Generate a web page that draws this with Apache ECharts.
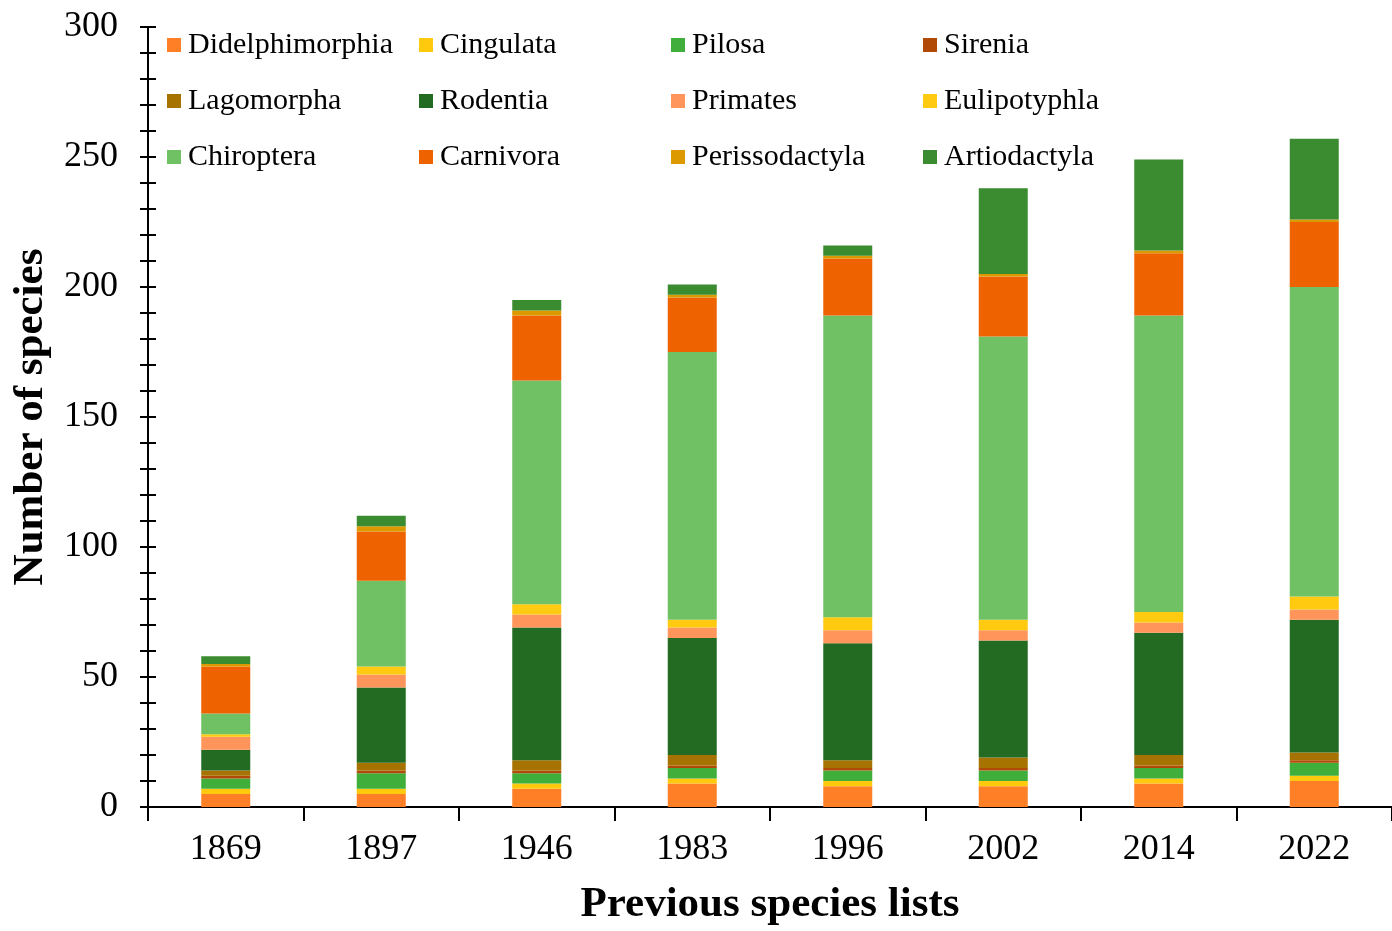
<!DOCTYPE html>
<html>
<head>
<meta charset="utf-8">
<script src="https://cdn.jsdelivr.net/npm/echarts@6/dist/echarts.min.js"></script>
<style>
  html, body { margin: 0; padding: 0; background: #fff; overflow: hidden; }
  #chart { width: 100vw; height: 100vh; }
</style>
</head>
<body>
<div id="chart"></div>
<script>
// lists
var years = ['1869', '1897', '1946', '1983', '1996', '2002', '2014', '2022'];

// species per order, bottom of the stack first
var didelphimorphia = [5, 5, 7, 9, 8, 8, 9, 10];
var cingulata       = [2, 2, 2, 2, 2, 2, 2, 2];
var pilosa          = [4, 6, 4, 4, 4, 4, 4, 5];
var sirenia         = [1, 1, 1, 1, 1, 1, 1, 1];
var lagomorpha      = [2, 3, 4, 4, 3, 4, 4, 3];
var rodentia        = [8, 29, 51, 45, 45, 45, 47, 51];
var primates        = [5, 5, 5, 4, 5, 4, 4, 4];
var eulipotyphla    = [1, 3, 4, 3, 5, 4, 4, 5];
var chiroptera      = [8, 33, 86, 103, 116, 109, 114, 119];
var carnivora       = [18, 19, 25, 21, 22, 23, 24, 25];
var perissodactyla  = [1, 2, 2, 1, 1, 1, 1, 1];
var artiodactyla    = [3, 4, 4, 4, 4, 33, 35, 31];

var orders = ['Didelphimorphia', 'Cingulata', 'Pilosa', 'Sirenia', 'Lagomorpha', 'Rodentia',
              'Primates', 'Eulipotyphla', 'Chiroptera', 'Carnivora', 'Perissodactyla', 'Artiodactyla'];
var values = [didelphimorphia, cingulata, pilosa, sirenia, lagomorpha, rodentia,
              primates, eulipotyphla, chiroptera, carnivora, perissodactyla, artiodactyla];
var colors = ['#ff7f27', '#ffc90e', '#3fae3a', '#b04a06', '#a67300', '#236b22',
              '#ff955a', '#ffca10', '#70c064', '#ee6200', '#dc9a00', '#3b8b30'];

var serif = '"Liberation Serif", "Times New Roman", serif';

var series = orders.map(function (name, i) {
	return {
		name: name,
		type: 'bar',
		stack: 'all',
		barWidth: 49,
		data: values[i],
		itemStyle: { color: colors[i] }
	};
});

var chart = echarts.init(document.getElementById('chart'));
chart.setOption({
	animation: false,
	backgroundColor: '#fff',
	color: colors,
	textStyle: { fontFamily: serif, color: '#000' },
	grid: { left: 148, right: 0, top: 27, bottom: 113, containLabel: false },
	legend: {
		data: orders,
		left: 162, top: 12,
		width: 1010,
		itemGap: 0,
		itemWidth: 14, itemHeight: 14,
		icon: 'rect',
		textStyle: { fontFamily: serif, fontSize: 30, color: '#000', width: 231, lineHeight: 56, padding: [0, 0, 0, 2] }
	},
	xAxis: {
		type: 'category',
		data: years,
		name: 'Previous species lists',
		nameLocation: 'middle',
		nameGap: 76,
		nameTextStyle: { fontFamily: serif, fontSize: 43, fontWeight: 'bold', color: '#000' },
		axisLine: { lineStyle: { color: '#000', width: 2 } },
		axisTick: { show: true, length: 14, lineStyle: { color: '#000', width: 2 } },
		axisLabel: { fontFamily: serif, fontSize: 36, color: '#000', margin: 25 }
	},
	yAxis: [{
		type: 'value',
		min: 0, max: 300, interval: 50,
		name: 'Number of species',
		nameLocation: 'middle',
		nameGap: 96,
		nameTextStyle: { fontFamily: serif, fontSize: 43, fontWeight: 'bold', color: '#000' },
		splitLine: { show: false },
		axisLine: { show: true, lineStyle: { color: '#000', width: 2 } },
		axisTick: { show: true, length: 8, lineStyle: { color: '#000', width: 2 } },
		minorTick: { show: true, splitNumber: 5, length: 8, lineStyle: { color: '#000', width: 2 } },
		axisLabel: { fontFamily: serif, fontSize: 36, color: '#000', margin: 30 }
	}, {
		// second copy only to draw the inner half of the crossing ticks
		type: 'value',
		position: 'left',
		min: 0, max: 300, interval: 50,
		splitLine: { show: false },
		axisLine: { show: false },
		axisTick: { show: true, inside: true, length: 8, lineStyle: { color: '#000', width: 2 } },
		minorTick: { show: true, splitNumber: 5, length: 8, lineStyle: { color: '#000', width: 2 } },
		axisLabel: { show: false }
	}],
	series: series
});
</script>
</body>
</html>
